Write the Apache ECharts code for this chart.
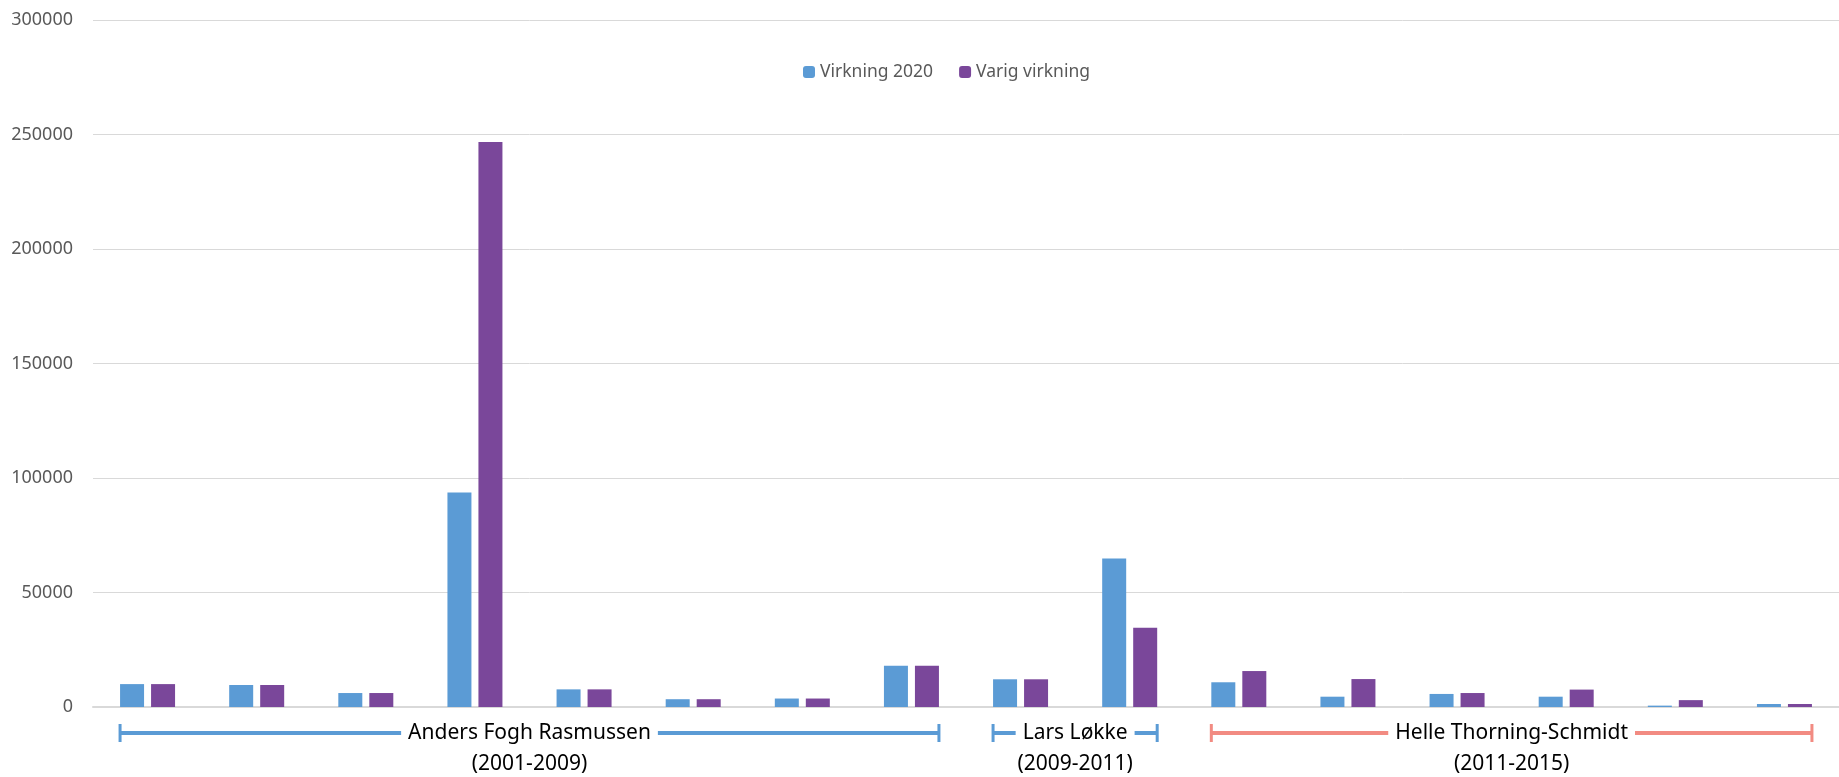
<!DOCTYPE html>
<html>
<head>
<meta charset="utf-8">
<script src="https://cdn.jsdelivr.net/npm/echarts@6/dist/echarts.min.js"></script>
<style>
html,body{margin:0;padding:0;background:#fff;}
#c{width:1839px;height:777px;}
</style>
</head>
<body>
<div id="c"></div>
<script>
const categories = ['1','2','3','4','5','6','7','8','9','10','11','12','13','14','15','16'];
const seriesNames = ['Virkning 2020', 'Varig virkning'];
const virkning2020 = [10000, 9600, 6100, 93700, 7700, 3400, 3700, 18000, 12100, 64900, 10800, 4500, 5700, 4500, 600, 1300];
const varigVirkning = [10000, 9600, 6100, 246700, 7700, 3400, 3700, 18000, 12100, 34600, 15700, 12200, 6100, 7600, 3000, 1300];
const yTicks = [0, 50000, 100000, 150000, 200000, 250000, 300000];
const periodNames = ['Anders Fogh Rasmussen', 'Lars Løkke', 'Helle Thorning-Schmidt'];
const periodYears = ['(2001-2009)', '(2009-2011)', '(2011-2015)'];
const periodFirst = [0, 8, 10];
const periodLast = [7, 9, 15];

const periodColors = ['#5B9BD5', '#5B9BD5', '#F28B82'];
const FONT = '"Noto Sans", sans-serif';
const BAR_W = 24, BAR_GAP = 7;

const chart = echarts.init(document.getElementById('c'), null, {renderer: 'canvas'});
chart.setOption({
  animation: false,
  backgroundColor: '#fff',
  textStyle: {fontFamily: FONT},
  legend: {
    left: 798, top: 58,
    itemWidth: 12, itemHeight: 12, itemGap: 26,
    textStyle: {color: '#595959', fontSize: 17.5, fontFamily: FONT},
    data: seriesNames
  },
  grid: {left: 93, right: -5, top: 20, bottom: 70, containLabel: false},
  xAxis: {
    type: 'category', data: categories,
    axisLine: {show: true, lineStyle: {color: '#d9d9d9', width: 2}},
    axisTick: {show: false}, axisLabel: {show: false}
  },
  yAxis: {
    type: 'value', min: yTicks[0], max: yTicks[yTicks.length - 1], interval: yTicks[1] - yTicks[0],
    axisLine: {show: false}, axisTick: {show: false},
    axisLabel: {color: '#595959', fontSize: 18, margin: 20, fontFamily: FONT, formatter: v => String(v)},
    splitLine: {lineStyle: {color: '#d9d9d9', width: 1}}
  },
  series: [
    {name: seriesNames[0], type: 'bar', data: virkning2020, barWidth: BAR_W, barGap: (BAR_GAP / BAR_W * 100) + '%',
     itemStyle: {color: '#5B9BD5'}},
    {name: seriesNames[1], type: 'bar', data: varigVirkning, barWidth: BAR_W,
     itemStyle: {color: '#7A479A'}}
  ]
});

const half = BAR_W + BAR_GAP / 2;
const g = [];
const yLine = 733, yYears = 764, tickH = 9;
for (let i = 0; i < periodNames.length; i++) {
  const x0 = chart.convertToPixel({xAxisIndex: 0}, periodFirst[i]) - half;
  const x1 = chart.convertToPixel({xAxisIndex: 0}, periodLast[i]) + half;
  const col = periodColors[i];
  g.push({type: 'line', shape: {x1: x0, y1: yLine, x2: x1, y2: yLine}, style: {stroke: col, lineWidth: 4}, z: 10});
  g.push({type: 'line', shape: {x1: x0, y1: yLine - tickH, x2: x0, y2: yLine + tickH}, style: {stroke: col, lineWidth: 3}, z: 10});
  g.push({type: 'line', shape: {x1: x1, y1: yLine - tickH, x2: x1, y2: yLine + tickH}, style: {stroke: col, lineWidth: 3}, z: 10});
  const cx = (x0 + x1) / 2;
  g.push({type: 'text', x: cx, y: yLine, z: 11,
    style: {text: periodNames[i], fill: '#000', font: '21px ' + FONT, align: 'center', verticalAlign: 'middle',
      backgroundColor: '#fff', padding: [2, 7]}});
  g.push({type: 'text', x: cx, y: yYears, z: 11,
    style: {text: periodYears[i], fill: '#000', font: '21px ' + FONT, align: 'center', verticalAlign: 'middle'}});
}
chart.setOption({graphic: g});
</script>
</body>
</html>
